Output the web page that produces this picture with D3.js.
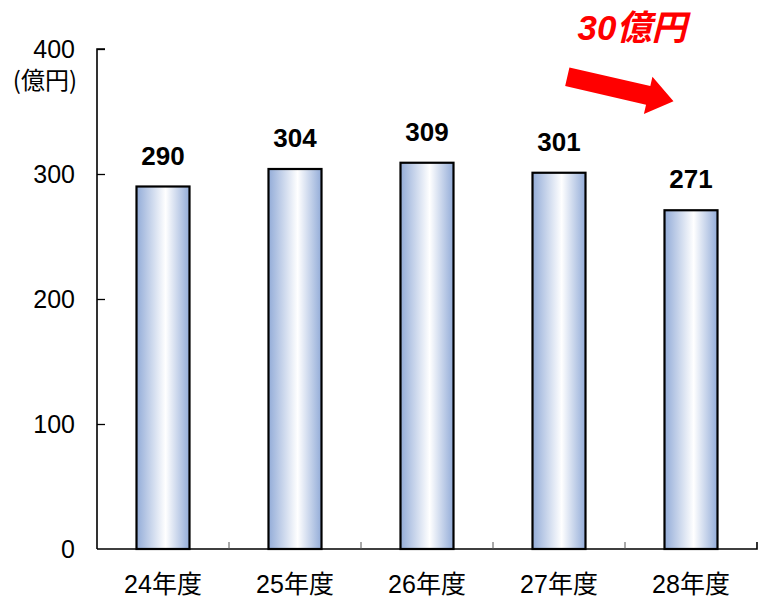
<!DOCTYPE html>
<html><head><meta charset="utf-8">
<script src="https://cdn.jsdelivr.net/npm/d3@7"></script>
<style>
html,body{margin:0;padding:0;background:#fff;}
svg{display:block;}
</style></head>
<body>
<svg id="chart" width="764" height="599"></svg>
<script>
const categories = ["24年度","25年度","26年度","27年度","28年度"];
const values = [290, 304, 309, 301, 271];
const yTicks = [0, 100, 200, 300, 400];
const unitLabel = "(億円)";
const annotation = "30億円";

const svg = d3.select("#chart");
const margin = {left: 97, right: 7, top: 49, bottom: 50};
const W = 764, H = 599;
const xb = d3.scaleBand().domain(categories).range([margin.left, W - margin.right]);
const y = d3.scaleLinear().domain([0, 400]).range([H - margin.bottom, margin.top]);

const defs = svg.append("defs");
const grad = defs.append("linearGradient").attr("id","barGrad").attr("x1","0").attr("x2","1").attr("y1","0").attr("y2","0");
grad.append("stop").attr("offset","0%").attr("stop-color","#93acd8");
grad.append("stop").attr("offset","55%").attr("stop-color","#ffffff");
grad.append("stop").attr("offset","100%").attr("stop-color","#93acd8");

const latin = "Arial, 'Liberation Sans', 'Noto Sans CJK JP', sans-serif";

// bars
svg.selectAll("rect.bar").data(values).join("rect")
  .attr("class","bar")
  .attr("x",(d,i)=> xb(categories[i]) + xb.bandwidth()/2 - 26.5)
  .attr("width",53)
  .attr("y",d=>y(d))
  .attr("height",d=>y(0)-y(d))
  .attr("fill","url(#barGrad)")
  .attr("stroke","#000").attr("stroke-width",2.2);

// value labels
svg.selectAll("text.val").data(values).join("text")
  .attr("class","val")
  .attr("x",(d,i)=> xb(categories[i]) + xb.bandwidth()/2)
  .attr("y",d=>y(d)-22)
  .attr("text-anchor","middle")
  .attr("font-family",latin).attr("font-weight","bold").attr("font-size",26)
  .attr("fill","#000")
  .text(d=>d);

// y axis
const yAxis = svg.append("g").attr("transform",`translate(${margin.left},0)`)
  .call(d3.axisRight(y).tickValues(yTicks).tickSize(8).tickFormat(""));
yAxis.select(".domain").attr("d",`M8,${y(400)}H0V${y(0)}`).attr("stroke","#000").attr("stroke-width",1.6);
yAxis.selectAll(".tick line").attr("stroke","#000").attr("stroke-width",1.3);
yAxis.selectAll(".tick").filter(d=>d===0).remove();

svg.selectAll("text.ytl").data(yTicks).join("text")
  .attr("class","ytl")
  .attr("x",75).attr("y",d=>y(d)+9)
  .attr("text-anchor","end")
  .attr("font-family",latin).attr("font-size",25).attr("fill","#000")
  .text(d=>d);

svg.append("text").attr("x",77).attr("y",89).attr("text-anchor","end")
  .attr("font-family","'Noto Sans CJK JP', sans-serif").attr("font-size",24).attr("fill","#000")
  .text(unitLabel);

// x axis
const xAxis = svg.append("g").attr("transform",`translate(0,${y(0)})`)
  .call(d3.axisTop(xb).tickSize(0).tickFormat(""));
xAxis.select(".domain").attr("d",`M${margin.left},0H${W-margin.right}V-7`).attr("stroke","#000").attr("stroke-width",1.6).attr("fill","none");
xAxis.selectAll(".tick").remove();
svg.append("g").selectAll("line").data(categories.slice(0,-1)).join("line")
  .attr("x1",d=>xb(d)+xb.bandwidth()).attr("x2",d=>xb(d)+xb.bandwidth())
  .attr("y1",y(0)).attr("y2",y(0)-7)
  .attr("stroke","#555").attr("stroke-width",1);

svg.selectAll("text.xl").data(categories).join("text")
  .attr("class","xl")
  .attr("x",d=>xb(d)+xb.bandwidth()/2)
  .attr("y",593)
  .attr("text-anchor","middle")
  .attr("font-family",latin).attr("font-size",25).attr("fill","#000")
  .text(d=>d);

// annotation
svg.append("text").attr("x",632).attr("y",40).attr("text-anchor","middle")
  .attr("font-family",latin).attr("font-weight","bold").attr("font-style","italic")
  .attr("font-size",35).attr("fill","#ff0000")
  .text(annotation);

const L = 109, hb = 83, sw = 9.5, hw = 19;
const arrowPath = `M0,${-sw}L${hb},${-sw}L${hb},${-hw}L${L},0L${hb},${hw}L${hb},${sw}L0,${sw}Z`;
svg.append("path").attr("d",arrowPath)
  .attr("transform","translate(567.3,76.7) rotate(13)")
  .attr("fill","#ff0000");
</script>
</body></html>
